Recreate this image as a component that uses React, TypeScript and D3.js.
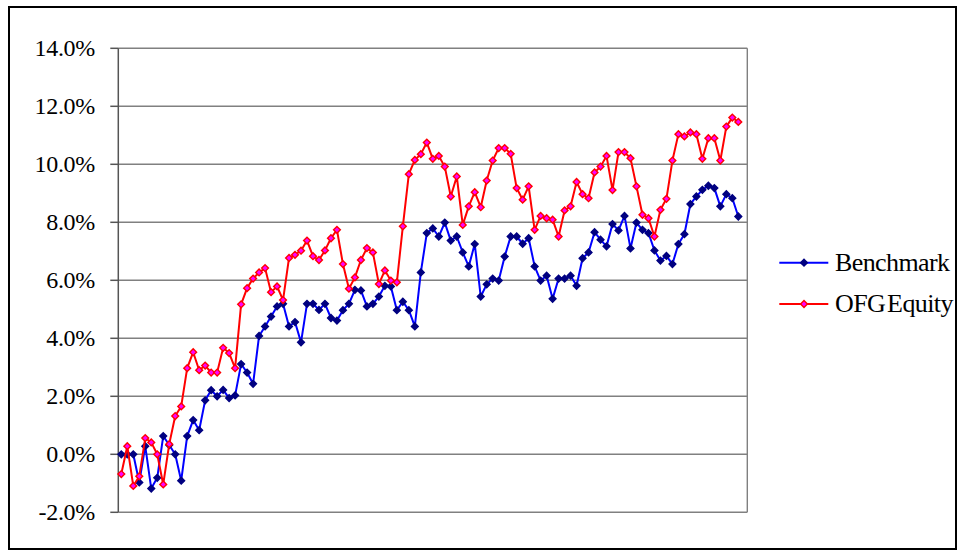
import React from "react";
import * as d3 from "d3";

// Cumulative relative returns, in percent, one value per period
const benchmark: number[] = [
  0.0, 0.0, 0.0, -0.97, 0.28, -1.18, -0.81, 0.63, 0.32, 0.0,
  -0.91, 0.63, 1.18, 0.83, 1.86, 2.21, 2.0, 2.22, 1.94, 2.03,
  3.11, 2.82, 2.43, 4.08, 4.41, 4.75, 5.1, 5.19, 4.41, 4.56,
  3.86, 5.19, 5.19, 4.98, 5.19, 4.7, 4.61, 4.97, 5.19, 5.67,
  5.65, 5.1, 5.19, 5.44, 5.81, 5.79, 4.97, 5.26, 4.97, 4.41,
  6.27, 7.63, 7.79, 7.51, 7.99, 7.37, 7.51, 6.96, 6.48, 7.25,
  5.44, 5.86, 6.06, 5.99, 6.82, 7.51, 7.51, 7.26, 7.45, 6.48,
  5.99, 6.16, 5.36, 6.06, 6.06, 6.16, 5.81, 6.76, 6.96, 7.66,
  7.4, 7.17, 7.94, 7.72, 8.22, 7.1, 7.99, 7.74, 7.63, 7.03,
  6.68, 6.84, 6.56, 7.25, 7.59, 8.63, 8.89, 9.12, 9.26, 9.18,
  8.55, 8.97, 8.83, 8.2,
];

const ofgEquity: number[] = [
  -0.68, 0.28, -1.09, -0.76, 0.56, 0.41, 0.0, -1.04, 0.35, 1.32,
  1.65, 2.97, 3.52, 2.9, 3.06, 2.82, 2.82, 3.67, 3.49, 2.97,
  5.17, 5.73, 6.06, 6.27, 6.42, 5.59, 5.79, 5.32, 6.77, 6.88,
  7.02, 7.37, 6.83, 6.7, 7.03, 7.45, 7.74, 6.56, 5.71, 6.1,
  6.7, 7.11, 6.96, 5.87, 6.34, 5.99, 5.93, 7.86, 9.66, 10.15,
  10.35, 10.75, 10.19, 10.29, 9.92, 8.89, 9.58, 7.91, 8.55, 9.04,
  8.52, 9.44, 10.13, 10.56, 10.56, 10.36, 9.18, 8.78, 9.24, 7.74,
  8.22, 8.14, 8.09, 7.51, 8.41, 8.55, 9.39, 8.97, 8.83, 9.72,
  9.92, 10.29, 9.11, 10.42, 10.42, 10.21, 9.24, 8.26, 8.14, 7.51,
  8.43, 8.81, 10.13, 11.04, 10.96, 11.1, 11.04, 10.19, 10.9, 10.9,
  10.13, 11.3, 11.61, 11.46,
];

// The category axis holds one more slot than there are observations
const periodCount = 105;
const periods: number[] = d3.range(periodCount);

const yTicks: number[] = [-2, 0, 2, 4, 6, 8, 10, 12, 14];

const seriesNames: string[] = ["Benchmark", "OFG Equity"];

const W = 960;
const H = 552;
const plot = { left: 118.3, right: 747.3, top: 48.3, bottom: 512.3 };
const FONT = "'Liberation Serif', 'Times New Roman', serif";

const styles = [
  { line: "#0000ff", fill: "#000080", stroke: "#000080" },
  { line: "#ff0000", fill: "#ff00ff", stroke: "#ff0000" },
];

const diamond = (r: number) => `M0,${-r}L${r},0L0,${r}L${-r},0Z`;

export default function App() {
  const x = d3
    .scaleBand<number>()
    .domain(periods)
    .range([plot.left, plot.right])
    .paddingInner(0)
    .paddingOuter(0);
  const cx = (i: number) => (x(i) as number) + x.bandwidth() / 2;

  const y = d3.scaleLinear().domain([-2, 14]).range([plot.bottom, plot.top]);

  const line = d3
    .line<number>()
    .x((_, i) => cx(i))
    .y((d) => y(d));

  const data = [benchmark, ofgEquity];
  const fmt = (v: number) => `${v.toFixed(1)}%`;

  return (
    <div style={{ position: "absolute", left: 0, top: 0 }}>
      <svg width={W} height={H} style={{ display: "block", background: "#fff" }}>
        {/* chart frame */}
        <rect x={9} y={7} width={947} height={542} fill="#fff" stroke="#000" strokeWidth={2} />

        {/* gridlines */}
        {yTicks.map((t) => (
          <line
            key={`g${t}`}
            x1={plot.left}
            x2={plot.right}
            y1={y(t)}
            y2={y(t)}
            stroke="#808080"
            strokeWidth={1.4}
          />
        ))}
        {/* plot area right edge */}
        <line x1={plot.right} x2={plot.right} y1={plot.top} y2={plot.bottom} stroke="#808080" strokeWidth={1.4} />

        {/* value axis */}
        <line x1={plot.left} x2={plot.left} y1={plot.top} y2={plot.bottom} stroke="#555" strokeWidth={1.5} />
        {yTicks.map((t) => (
          <g key={`t${t}`}>
            <line x1={plot.left - 8} x2={plot.left} y1={y(t)} y2={y(t)} stroke="#555" strokeWidth={1.5} />
            <text
              x={95}
              y={y(t) + 8}
              textAnchor="end"
              fontFamily={FONT}
              fontSize={24}
              letterSpacing={-0.3}
              fill="#000"
            >
              {fmt(t)}
            </text>
          </g>
        ))}

        {/* series */}
        {data.map((vals, s) => (
          <g key={seriesNames[s]}>
            <path d={line(vals) || ""} fill="none" stroke={styles[s].line} strokeWidth={2} strokeLinejoin="round" />
            {vals.map((v, i) => (
              <path
                key={i}
                d={diamond(3.4)}
                transform={`translate(${cx(i)},${y(v)})`}
                fill={styles[s].fill}
                stroke={styles[s].stroke}
                strokeWidth={1.4}
              />
            ))}
          </g>
        ))}

        {/* legend */}
        {seriesNames.map((name, s) => {
          const ly = 262.7 + s * 41.3;
          return (
            <g key={`l${name}`}>
              <line x1={779.3} x2={828.3} y1={ly} y2={ly} stroke={styles[s].line} strokeWidth={2} />
              <path
                d={diamond(3.4)}
                transform={`translate(804,${ly})`}
                fill={styles[s].fill}
                stroke={styles[s].stroke}
                strokeWidth={1.4}
              />
              <text
                x={835}
                y={ly + 8}
                fontFamily={FONT}
                fontSize={26}
                letterSpacing={-0.6}
                wordSpacing={-4}
                fill="#000"
              >
                {name}
              </text>
            </g>
          );
        })}
      </svg>
    </div>
  );
}
